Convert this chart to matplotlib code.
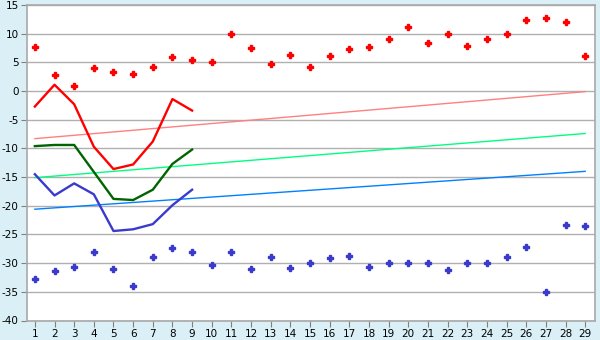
import matplotlib
matplotlib.use('Agg')
import matplotlib.pyplot as plt

days = list(range(1, 30))

# scatter: daily extremes
red_pts = [7.7, 2.8, 0.9, 4.0, 3.3, 3.0, 4.2, 6.0, 5.4, 5.1, 10.0, 7.5, 4.7, 6.3,
           4.2, 6.1, 7.3, 7.7, 9.1, 11.2, 8.4, 9.9, 7.9, 9.1, 10.0, 12.4, 12.7, 12.0, 6.1]
blue_pts = [-32.7, -31.4, -30.6, -28.0, -31.1, -33.9, -29.0, -27.3, -28.0, -30.4, -28.0,
            -31.1, -29.0, -30.9, -30.0, -29.1, -28.7, -30.7, -30.0, -30.0, -30.0, -31.2,
            -30.0, -30.0, -29.0, -27.1, -35.0, -23.4, -23.6]

# lines for the first 9 days
line_days = list(range(1, 10))
red_line = [-2.7, 1.1, -2.3, -9.7, -13.6, -12.8, -8.8, -1.4, -3.4]
green_line = [-9.6, -9.4, -9.4, -14.1, -18.8, -19.0, -17.2, -12.7, -10.2]
blue_line = [-14.5, -18.2, -16.1, -18.0, -24.4, -24.1, -23.2, -19.9, -17.2]

# trend lines (start at day 1, end at day 29)
trend_ends = [1, 29]
pink_trend = [-8.3, -0.1]
mint_trend = [-15.1, -7.4]
sky_trend = [-20.6, -14.0]

yticks = list(range(-40, 16, 5))

fig = plt.figure(figsize=(6, 3.4), dpi=100, facecolor='#daf0f6')
ax = fig.add_axes([27 / 600, 19.5 / 340, 568 / 600, 315.5 / 340])
ax.set_facecolor('white')

for y in yticks:
    ax.axhline(y, color='#b0b0b0', lw=1, zorder=1)

ax.plot(trend_ends, pink_trend, color='#ff8080', lw=1, zorder=2)
ax.plot(trend_ends, mint_trend, color='#00ff80', lw=1, zorder=2)
ax.plot(trend_ends, sky_trend, color='#0080ff', lw=1, zorder=2)

ax.plot(line_days, red_line, color='#ff0000', lw=1.7, zorder=3)
ax.plot(line_days, green_line, color='#006400', lw=1.7, zorder=3)
ax.plot(line_days, blue_line, color='#3a3acc', lw=1.7, zorder=3)

# filled plus markers, thickened with an edge of the same colour
ax.plot(days, red_pts, 'P', color='#ff0000', ms=4.5, mew=1, ls='none', zorder=4)
ax.plot(days, blue_pts, 'P', color='#3a3acc', ms=4.5, mew=1, ls='none', zorder=4)

ax.set_xlim(0.6, 29.5)
ax.set_ylim(-40, 15)
ax.set_xticks(days)
ax.set_yticks(yticks)
ax.set_yticklabels([str(v) for v in yticks])
ax.tick_params(labelsize=7.5, length=4, color='#808080', pad=2, colors='#000000')
ax.tick_params(axis='both', color='#808080')
for s in ax.spines.values():
    s.set_color('#a8a8a8')
    s.set_linewidth(1.2)

fig.savefig('out.png', dpi=100, facecolor=fig.get_facecolor())
